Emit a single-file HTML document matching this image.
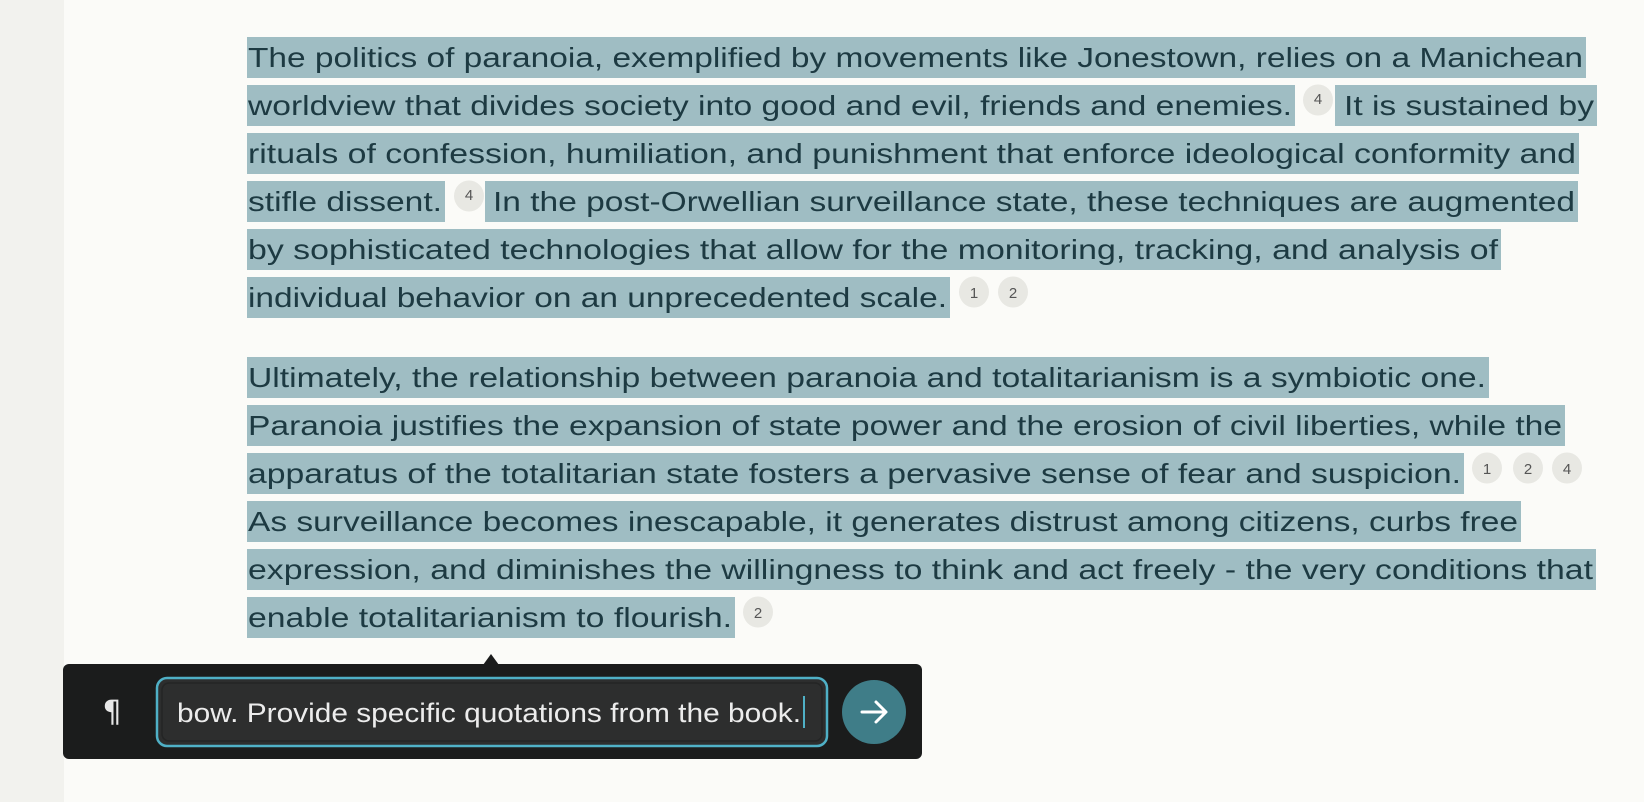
<!DOCTYPE html>
<html><head><meta charset="utf-8"><style>
html,body{margin:0;padding:0;width:1644px;height:802px;overflow:hidden;background:#fbfbf8}
svg{display:block}
.t{font-family:"Liberation Sans",sans-serif;font-size:28px;fill:#1d3a42}
.c{font-family:"Liberation Sans",sans-serif;font-size:15px;fill:#555}
</style></head><body>
<svg width="1644" height="802" xmlns="http://www.w3.org/2000/svg">
<rect x="0" y="0" width="64" height="802" fill="#f2f2ee"/>
<g fill="#9fbdc3">
<rect x="247" y="37" width="1339" height="41"/>
<rect x="247" y="85" width="1048" height="41"/><rect x="1335" y="85" width="262" height="41"/>
<rect x="247" y="133" width="1332" height="41"/>
<rect x="247" y="181" width="198" height="41"/><rect x="485" y="181" width="1093" height="41"/>
<rect x="247" y="229" width="1254" height="41"/>
<rect x="247" y="277" width="703" height="41"/>
<rect x="247" y="357" width="1242" height="41"/>
<rect x="247" y="405" width="1318" height="41"/>
<rect x="247" y="453" width="1217" height="41"/>
<rect x="247" y="501" width="1274" height="41"/>
<rect x="247" y="549" width="1349" height="41"/>
<rect x="247" y="597" width="488" height="41"/>
</g>
<g class="t">
<text x="248" y="67" textLength="1335" lengthAdjust="spacingAndGlyphs">The politics of paranoia, exemplified by movements like Jonestown, relies on a Manichean</text>
<text x="248" y="115" textLength="1044" lengthAdjust="spacingAndGlyphs">worldview that divides society into good and evil, friends and enemies.</text>
<text x="1344" y="115" textLength="250" lengthAdjust="spacingAndGlyphs">It is sustained by</text>
<text x="248" y="163" textLength="1328" lengthAdjust="spacingAndGlyphs">rituals of confession, humiliation, and punishment that enforce ideological conformity and</text>
<text x="248" y="211" textLength="194" lengthAdjust="spacingAndGlyphs">stifle dissent.</text>
<text x="493" y="211" textLength="1082" lengthAdjust="spacingAndGlyphs">In the post-Orwellian surveillance state, these techniques are augmented</text>
<text x="248" y="259" textLength="1250" lengthAdjust="spacingAndGlyphs">by sophisticated technologies that allow for the monitoring, tracking, and analysis of</text>
<text x="248" y="307" textLength="699" lengthAdjust="spacingAndGlyphs">individual behavior on an unprecedented scale.</text>
<text x="248" y="387" textLength="1238" lengthAdjust="spacingAndGlyphs">Ultimately, the relationship between paranoia and totalitarianism is a symbiotic one.</text>
<text x="248" y="435" textLength="1314" lengthAdjust="spacingAndGlyphs">Paranoia justifies the expansion of state power and the erosion of civil liberties, while the</text>
<text x="248" y="483" textLength="1213" lengthAdjust="spacingAndGlyphs">apparatus of the totalitarian state fosters a pervasive sense of fear and suspicion.</text>
<text x="248" y="531" textLength="1270" lengthAdjust="spacingAndGlyphs">As surveillance becomes inescapable, it generates distrust among citizens, curbs free</text>
<text x="248" y="579" textLength="1345" lengthAdjust="spacingAndGlyphs">expression, and diminishes the willingness to think and act freely - the very conditions that</text>
<text x="248" y="627" textLength="484" lengthAdjust="spacingAndGlyphs">enable totalitarianism to flourish.</text>
</g>
<g fill="#e8e8e3">
<ellipse cx="1318" cy="100" rx="15" ry="15.5"/>
<ellipse cx="469" cy="196" rx="15" ry="15.5"/>
<ellipse cx="974" cy="292" rx="15" ry="15.5"/><ellipse cx="1013" cy="292" rx="15" ry="15.5"/>
<ellipse cx="1487" cy="468" rx="15" ry="15.5"/><ellipse cx="1528" cy="468" rx="15" ry="15.5"/><ellipse cx="1567" cy="468" rx="15" ry="15.5"/>
<ellipse cx="758" cy="612" rx="15" ry="15.5"/>
</g>
<g class="c" text-anchor="middle">
<text x="1318" y="104">4</text>
<text x="469" y="200">4</text>
<text x="974" y="298">1</text><text x="1013" y="298">2</text>
<text x="1487" y="474">1</text><text x="1528" y="474">2</text><text x="1567" y="474">4</text>
<text x="758" y="618">2</text>
</g>
<polygon points="483,665 491,654 499,665" fill="#1b1c1c"/>
<rect x="63" y="664" width="859" height="95" rx="6" fill="#1b1c1c"/>
<text x="112" y="722" text-anchor="middle" font-family="DejaVu Sans,sans-serif" font-size="30" fill="#e8e8e8">¶</text>
<rect x="157" y="678" width="670" height="68" rx="10" fill="#2d2e2e" stroke="#4fb0c6" stroke-width="2.5"/>
<rect x="162" y="683" width="660" height="58" rx="7" fill="none" stroke="#242525" stroke-width="1.5"/>
<text x="177" y="722" textLength="624" lengthAdjust="spacingAndGlyphs" font-family="Liberation Sans,sans-serif" font-size="27" fill="#ececec">bow. Provide specific quotations from the book.</text>
<rect x="803" y="696" width="2" height="32" fill="#4fb0c6"/>
<ellipse cx="874" cy="712" rx="32" ry="32" fill="#3f7d88"/>
<path d="M862 712 H885 M876 702 L886 712 L876 722" stroke="#fff" stroke-width="3" fill="none" stroke-linecap="round" stroke-linejoin="round"/>
</svg>
</body></html>
